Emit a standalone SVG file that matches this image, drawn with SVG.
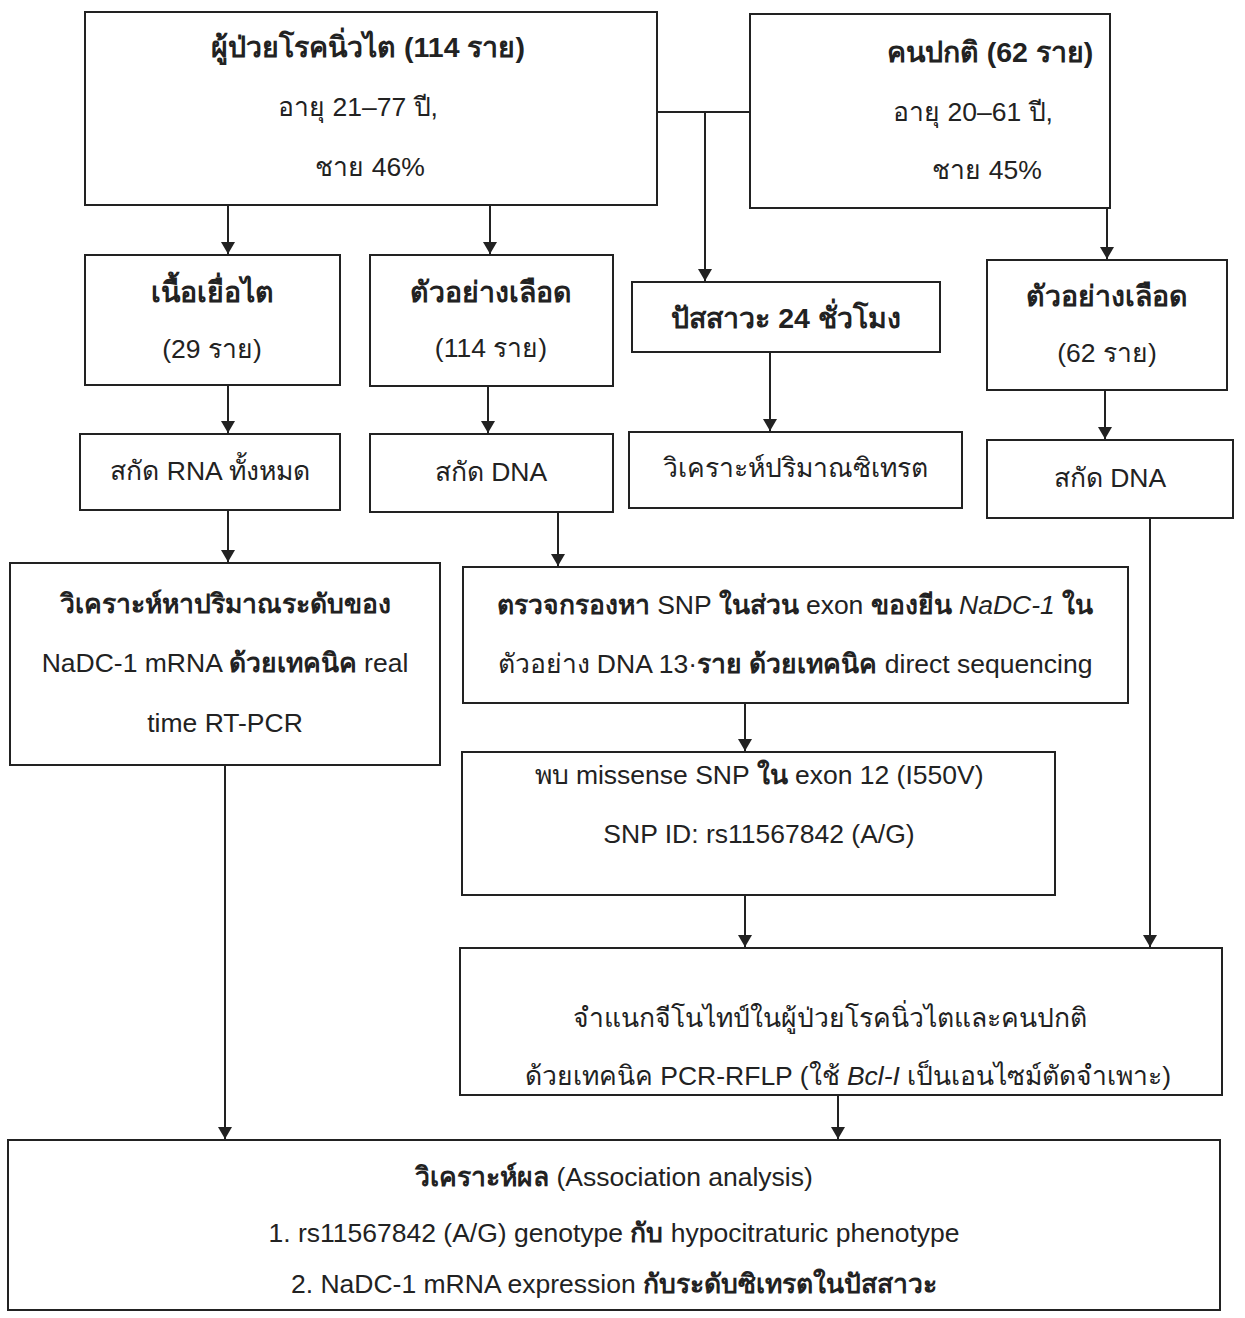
<svg xmlns="http://www.w3.org/2000/svg" width="1245" height="1318" viewBox="0 0 1245 1318">
<defs>
<marker id="ah" viewBox="0 0 12 14" refX="12" refY="7" markerWidth="12" markerHeight="14" markerUnits="userSpaceOnUse" orient="auto">
<path d="M0,0 L12,7 L0,14 z" fill="#222"/>
</marker>
<style>
.box{fill:#fff;stroke:#222;stroke-width:2}
.t{font-family:"Liberation Sans","Noto Sans","DejaVu Sans",sans-serif;font-size:26.5px;fill:#222;text-anchor:middle}
.b{font-weight:bold}
.ti{font-size:28.5px;font-weight:bold}
.c{fill:none;stroke:#222;stroke-width:2}
.a{marker-end:url(#ah)}
</style>
</defs>
<rect width="1245" height="1318" fill="#fff"/>
<g id="connectors">
<path class="c" d="M657,112 H750"/>
<path class="c a" d="M705,112 V281"/>
<path class="c a" d="M228,205 V254"/>
<path class="c a" d="M490,205 V254"/>
<path class="c a" d="M1107,208 V259"/>
<path class="c a" d="M228,385 V433"/>
<path class="c a" d="M488,386 V433"/>
<path class="c a" d="M770,352 V431"/>
<path class="c a" d="M1105,390 V439"/>
<path class="c a" d="M228,510 V562"/>
<path class="c a" d="M558,512 V566"/>
<path class="c a" d="M745,703 V751"/>
<path class="c a" d="M745,895 V947"/>
<path class="c a" d="M1150,518 V947"/>
<path class="c a" d="M838,1095 V1139"/>
<path class="c a" d="M225,765 V1139"/>
</g>
<g id="patients">
<rect class="box" x="85" y="12" width="572" height="193"/>
<text class="t ti" x="368" y="57">ผู้ป่วยโรคนิ่วไต (114 ราย)</text>
<text class="t" x="358" y="116">อายุ 21–77 ปี,</text>
<text class="t" x="370" y="176">ชาย 46%</text>
</g>
<g id="normal">
<rect class="box" x="750" y="14" width="360" height="194"/>
<text class="t ti" x="990" y="62">คนปกติ (62 ราย)</text>
<text class="t" x="973" y="121">อายุ 20–61 ปี,</text>
<text class="t" x="987" y="179">ชาย 45%</text>
</g>
<g id="tissue">
<rect class="box" x="85" y="255" width="255" height="130"/>
<text class="t ti" x="212" y="302">เนื้อเยื่อไต</text>
<text class="t" x="212" y="358">(29 ราย)</text>
</g>
<g id="blood1">
<rect class="box" x="370" y="255" width="243" height="131"/>
<text class="t ti" x="491" y="302">ตัวอย่างเลือด</text>
<text class="t" x="491" y="357">(114 ราย)</text>
</g>
<g id="urine">
<rect class="box" x="632" y="282" width="308" height="70"/>
<text class="t ti" x="786" y="328">ปัสสาวะ 24 ชั่วโมง</text>
</g>
<g id="blood2">
<rect class="box" x="987" y="260" width="240" height="130"/>
<text class="t ti" x="1107" y="306">ตัวอย่างเลือด</text>
<text class="t" x="1107" y="362">(62 ราย)</text>
</g>
<g id="rna">
<rect class="box" x="80" y="434" width="260" height="76"/>
<text class="t" x="210" y="480">สกัด RNA ทั้งหมด</text>
</g>
<g id="dna1">
<rect class="box" x="370" y="434" width="243" height="78"/>
<text class="t" x="491" y="481">สกัด DNA</text>
</g>
<g id="citrate">
<rect class="box" x="629" y="432" width="333" height="76"/>
<text class="t" x="795" y="477">วิเคราะห์ปริมาณซิเทรต</text>
</g>
<g id="dna2">
<rect class="box" x="987" y="440" width="246" height="78"/>
<text class="t" x="1110" y="487">สกัด DNA</text>
</g>
<g id="mrna">
<rect class="box" x="10" y="563" width="430" height="202"/>
<text class="t b" x="225" y="613">วิเคราะห์หาปริมาณระดับของ</text>
<text class="t" x="225" y="672">NaDC-1 mRNA <tspan class="b">ด้วยเทคนิค</tspan> real</text>
<text class="t" x="225" y="732">time RT-PCR</text>
</g>
<g id="screen">
<rect class="box" x="463" y="567" width="665" height="136"/>
<text class="t" x="795" y="614"><tspan class="b">ตรวจกรองหา</tspan> SNP <tspan class="b">ในส่วน</tspan> exon <tspan class="b">ของยีน</tspan> <tspan font-style="italic">NaDC-1</tspan> <tspan class="b">ใน</tspan></text>
<text class="t" x="795" y="673">ตัวอย่าง DNA 13·<tspan class="b">ราย ด้วยเทคนิค</tspan> direct sequencing</text>
</g>
<g id="missense">
<rect class="box" x="462" y="752" width="593" height="143"/>
<text class="t" x="759" y="784">พบ missense SNP <tspan class="b">ใน</tspan> exon 12 (I550V)</text>
<text class="t" x="759" y="843">SNP ID: rs11567842 (A/G)</text>
</g>
<g id="genotype">
<rect class="box" x="460" y="948" width="762" height="147"/>
<text class="t" x="830" y="1027">จำแนกจีโนไทป์ในผู้ป่วยโรคนิ่วไตและคนปกติ</text>
<text class="t" x="848" y="1085">ด้วยเทคนิค PCR-RFLP (ใช้ <tspan font-style="italic">Bcl-I</tspan> เป็นเอนไซม์ตัดจำเพาะ)</text>
</g>
<g id="analysis">
<rect class="box" x="8" y="1140" width="1212" height="170"/>
<text class="t" x="614" y="1186"><tspan class="b">วิเคราะห์ผล</tspan> (Association analysis)</text>
<text class="t" x="614" y="1242">1. rs11567842 (A/G) genotype <tspan class="b">กับ</tspan> hypocitraturic phenotype</text>
<text class="t" x="614" y="1293">2. NaDC-1 mRNA expression <tspan class="b">กับระดับซิเทรตในปัสสาวะ</tspan></text>
</g>
</svg>
